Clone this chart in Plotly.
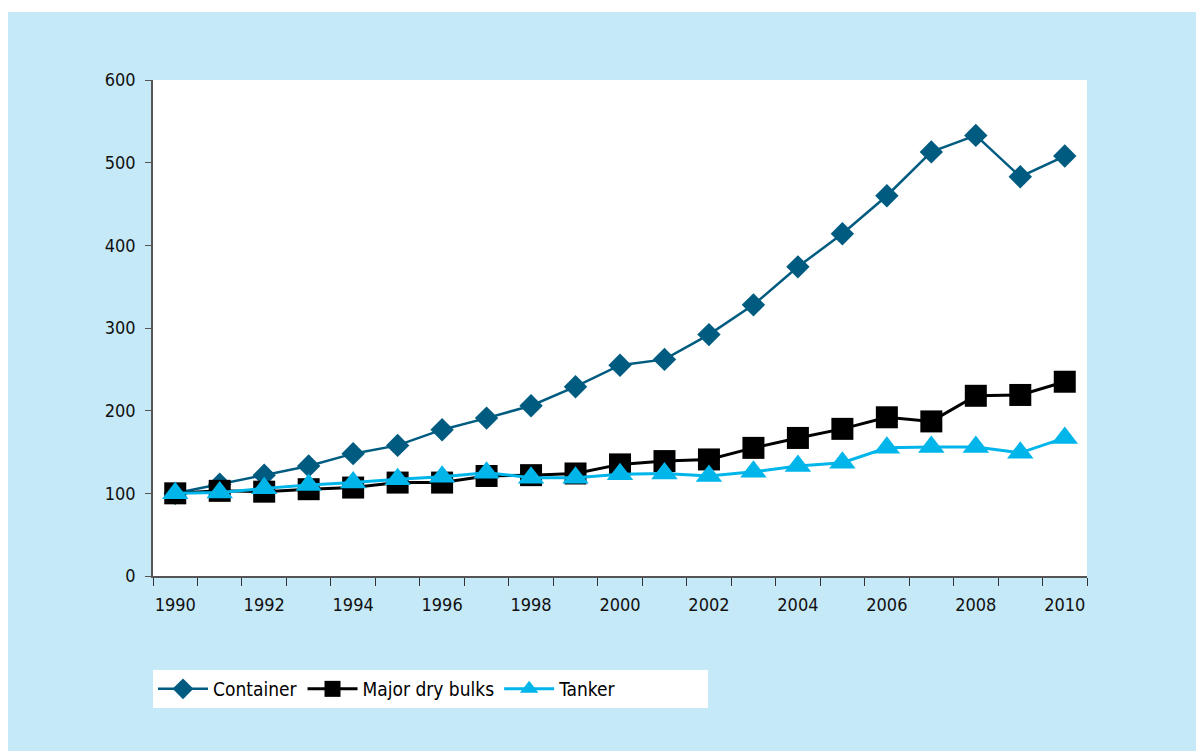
import plotly.graph_objects as go

# 데이터
years = list(range(1990, 2011))
container = [100, 111, 122, 133, 148, 158, 177, 191, 206, 229, 255, 262,
             292, 328, 374, 414, 460, 513, 533, 483, 508]
dry_bulks = [100, 103, 102, 105, 107, 113, 113, 121, 122, 124, 135, 139,
             141, 155, 167, 178, 192, 187, 218, 219, 235]
tanker = [100, 101, 106, 110, 113, 117, 120, 125, 119, 119, 123, 124,
          121, 126, 133, 137, 155, 156, 156, 149, 167]
tick_years = list(range(1990, 2011, 2))

FONT = "Liberation Sans Narrow, DejaVu Sans Condensed, Arial Narrow, sans-serif"
BG = "#c6e9f8"
NB = "\u00a0"

fig = go.Figure()
fig.add_trace(go.Scatter(
    x=years, y=container, name="Container", mode="lines+markers",
    line=dict(color="#005b80", width=2.5),
    marker=dict(symbol="diamond", size=18, color="#005b80"),
))
fig.add_trace(go.Scatter(
    x=years, y=dry_bulks, name="Major dry bulks", mode="lines+markers",
    line=dict(color="#000000", width=3),
    marker=dict(symbol="square", size=22, color="#000000"),
))
fig.add_trace(go.Scatter(
    x=years, y=tanker, name="Tanker" + NB * 16, mode="lines+markers",
    line=dict(color="#00b5ea", width=3),
    marker=dict(symbol="triangle-up", size=23, color="#00b5ea"),
))

# 배경 패널 (연한 파랑) + 흰색 플롯 영역
fig.add_shape(type="rect", xref="paper", yref="paper",
              x0=-0.2, x1=1.2, y0=-0.4, y1=(496 + 72 - 4) / 496,
              fillcolor=BG, line_width=0, layer="below")
fig.add_shape(type="rect", xref="paper", yref="paper",
              x0=0, x1=1, y0=0, y1=1,
              fillcolor="white", line_width=0, layer="below")

fig.update_layout(
    width=1196, height=743,
    margin=dict(l=145, r=117, t=72, b=175),
    paper_bgcolor="white", plot_bgcolor="white",
    font=dict(family=FONT, size=18, color="#111111"),
    showlegend=True,
    legend=dict(
        orientation="h", x=0, y=-(670 - 576) / 496,
        xanchor="left", yanchor="top",
        bgcolor="white", itemwidth=50,
        font=dict(family=FONT, size=19, color="#000000"),
    ),
)
fig.update_xaxes(
    range=[1989.5, 2010.5], tickmode="array", tickvals=tick_years,
    ticks="", showgrid=False, zeroline=False,
    showline=True, linecolor="#555555", linewidth=1.5,
    minor=dict(tick0=1989.5, dtick=1, ticks="outside", ticklen=8,
               tickcolor="#333333", showgrid=False),
    ticklabelstandoff=12,
)
fig.update_yaxes(
    range=[0, 600], dtick=100, ticks="outside", ticklen=6,
    tickcolor="#555555", showgrid=False, zeroline=False,
    showline=True, linecolor="#555555", linewidth=1.5,
    ticklabelstandoff=6,
)

fig.write_html("out.html")
